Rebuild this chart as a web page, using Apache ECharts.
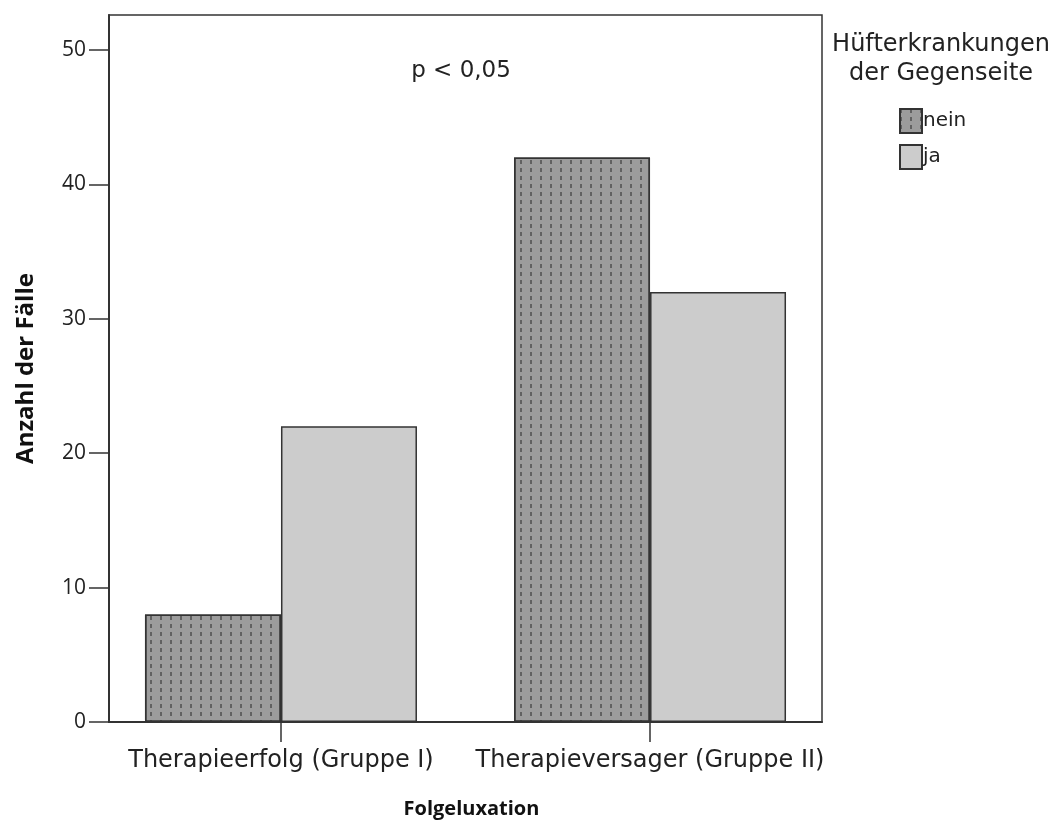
<!DOCTYPE html>
<html>
<head>
<meta charset="utf-8">
<script src="https://cdn.jsdelivr.net/npm/echarts@6/dist/echarts.min.js"></script>
<style>
html,body{margin:0;padding:0;background:#fff;}
#chart{width:1055px;height:821px;}
</style>
</head>
<body>
<div id="chart"></div>
<script>
var categories = ['Therapieerfolg (Gruppe I)', 'Therapieversager (Gruppe II)'];
var seriesNames = ['nein', 'ja'];
var nein = [8, 42];
var ja = [22, 32];
var yTicks = [0, 10, 20, 30, 40, 50];
var legendTitle = 'Hüfterkrankungen\nder Gegenseite';
var annotation = 'p < 0,05';
var xTitle = 'Folgeluxation';
var yTitle = 'Anzahl der Fälle';

var FONT = 'DejaVu Sans';
var FONT2 = 'Open Sans';
var catPos = categories.map(function (c, i) { return i; });
function pairs(arr) { return arr.map(function (v, i) { return [catPos[i], v]; }); }

var chart = echarts.init(document.getElementById('chart'), null, {renderer: 'canvas'});
chart.setOption({
  backgroundColor: '#fff',
  animation: false,
  textStyle: {fontFamily: FONT},
  grid: {left: 109, right: 233, top: 15, bottom: 99, outerBoundsMode: 'none', containLabel: false,
    show: true, borderColor: '#333', borderWidth: 1.5, backgroundColor: 'transparent'},
  xAxis: {
    type: 'value', min: -0.466, max: 1.466,
    splitLine: {show: false},
    axisLine: {show: true, onZero: false, lineStyle: {color: '#333', width: 2}},
    axisTick: {show: true, customValues: catPos, length: 20, lineStyle: {color: '#333', width: 1.5}},
    axisLabel: {customValues: catPos, formatter: function (v) { return categories[Math.round(v)]; }, fontFamily: FONT, fontSize: 24, color: '#222', margin: 27},
    name: xTitle, nameLocation: 'middle', nameGap: 77,
    nameTextStyle: {fontFamily: FONT2, fontSize: 20, fontWeight: 'bold', color: '#111', padding: [0, 0, 0, 12]}
  },
  yAxis: {
    type: 'value', min: 0, max: 52.6, interval: 10,
    splitLine: {show: false},
    axisLine: {show: true, onZero: false, lineStyle: {color: '#333', width: 2}},
    axisTick: {show: true, customValues: yTicks, length: 20, lineStyle: {color: '#333', width: 1.5}},
    axisLabel: {customValues: yTicks, fontFamily: FONT2, fontSize: 21, color: '#222', margin: 23},
    name: yTitle, nameLocation: 'middle', nameGap: 71, nameRotate: 90,
    nameTextStyle: {fontFamily: FONT2, fontSize: 24, fontWeight: 'bold', color: '#111'}
  },
  legend: {
    orient: 'vertical', left: 899, top: 108, padding: 0, itemWidth: 22, itemHeight: 24, itemGap: 10,
    icon: 'rect',
    data: seriesNames,
    textStyle: {fontFamily: FONT, fontSize: 20, color: '#222', padding: [0, 0, 0, -4]}
  },
  graphic: [
    {type: 'text', position: [941, 30], style: {text: legendTitle, fontFamily: FONT, fontSize: 24, fill: '#222', textAlign: 'center', lineHeight: 29}},
    {type: 'text', position: [461, 71], style: {text: annotation, fontFamily: FONT, fontSize: 23, fill: '#222', textAlign: 'center', textVerticalAlign: 'middle'}}
  ],
  series: [
    {
      name: seriesNames[0], type: 'bar', data: pairs(nein), barWidth: 136, barGap: '0%',
      itemStyle: {color: '#9c9c9c', borderColor: '#333', borderWidth: 1.5,
        decal: {symbol: 'rect', symbolSize: 1, color: 'rgba(50,50,50,0.55)', dashArrayX: [1.5, 7.8], dashArrayY: [3.5, 3.5], rotation: 0}}
    },
    {
      name: seriesNames[1], type: 'bar', data: pairs(ja), barWidth: 136, barGap: '0%',
      itemStyle: {color: '#cccccc', borderColor: '#333', borderWidth: 1.5}
    }
  ]
});
</script>
</body>
</html>
